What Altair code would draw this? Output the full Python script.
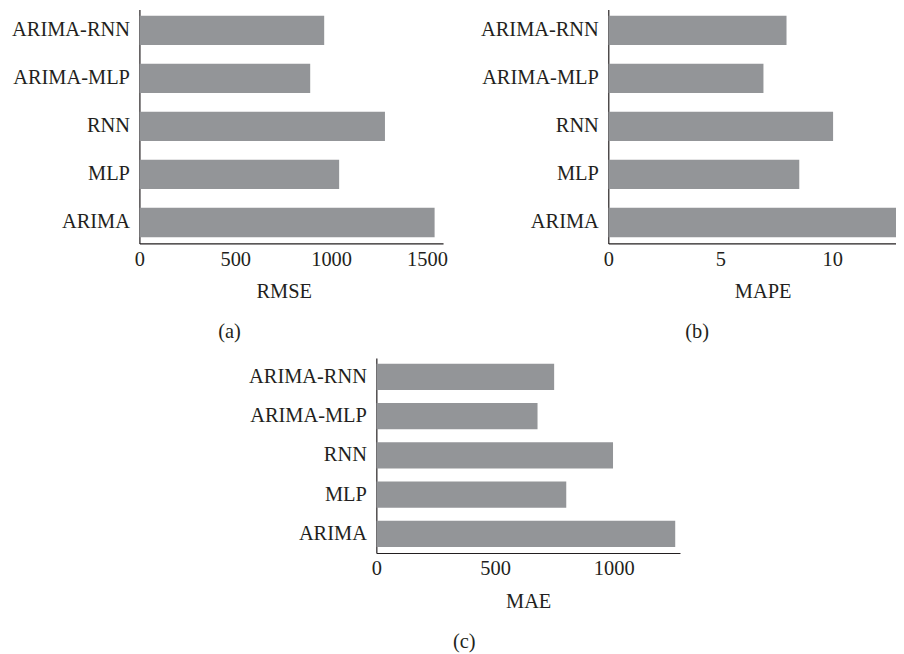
import altair as alt
import pandas as pd

models = ["ARIMA-RNN", "ARIMA-MLP", "RNN", "MLP", "ARIMA"]
rmse = [964, 891, 1281, 1042, 1540]
mape = [7.96, 6.93, 10.04, 8.53, 13.5]
mae = [749, 679, 997, 800, 1259]

FONT = "Liberation Serif"
TXT = "#231f20"
BAR = "#939598"
FS = 20.5


def panel(values, title, tag, domain_max, ticks, width, height, title_x, pi, po, tag_dx=0):
    df = pd.DataFrame({"model": models, "v": values})
    return (
        alt.Chart(df)
        .mark_bar(color=BAR, clip=True)
        .encode(
            x=alt.X(
                "v:Q",
                scale=alt.Scale(domain=[0, domain_max], nice=False, zero=True),
                axis=alt.Axis(
                    title=title,
                    values=ticks,
                    format="d",
                    ticks=False,
                    grid=False,
                    labelPadding=6,
                    titlePadding=12,
                    titleX=title_x,
                    labelFlush=False,
                ),
            ),
            y=alt.Y(
                "model:N",
                sort=models,
                scale=alt.Scale(paddingInner=pi, paddingOuter=po),
                axis=alt.Axis(title=None, ticks=False, labelPadding=10),
            ),
        )
        .properties(
            width=width,
            height=height,
            title=alt.TitleParams(
                tag, orient="bottom", frame="bounds", anchor="middle",
                offset=20, dx=tag_dx, fontSize=FS, font=FONT, color=TXT,
                fontWeight="normal",
            ),
        )
    )


a = panel(rmse, "RMSE", "(a)", 1584, [0, 500, 1000, 1500], 305, 235, 145, 0.39, 0.13)
b = panel(mape, "MAPE", "(b)", 12.85, [0, 5, 10], 289, 235, 155, 0.39, 0.13, tag_dx=9)
c = panel(mae, "MAE", "(c)", 1279, [0, 500, 1000], 305, 196, 152.5, 0.33, 0.15)

spacer = (
    alt.Chart(pd.DataFrame({"k": [0]}))
    .mark_rule(opacity=0)
    .encode(x=alt.value(0), y=alt.value(0), y2=alt.value(1))
    .properties(width=1, height=1)
)

top = alt.hconcat(a, b, spacing=32)
bottom = alt.hconcat(spacer, c, spacing=108)

chart = (
    alt.vconcat(top, bottom, spacing=15)
    .properties(padding={"left": 3, "top": 0, "right": 0, "bottom": 0})
    .configure_view(stroke=None)
    .configure_axis(
        labelFont=FONT,
        titleFont=FONT,
        labelFontSize=FS,
        titleFontSize=FS,
        labelColor=TXT,
        titleColor=TXT,
        titleFontWeight="normal",
        domainColor=TXT,
        domainWidth=1.2,
    )
)

chart.save("out.html", embed_options={"renderer": "svg", "actions": False})
